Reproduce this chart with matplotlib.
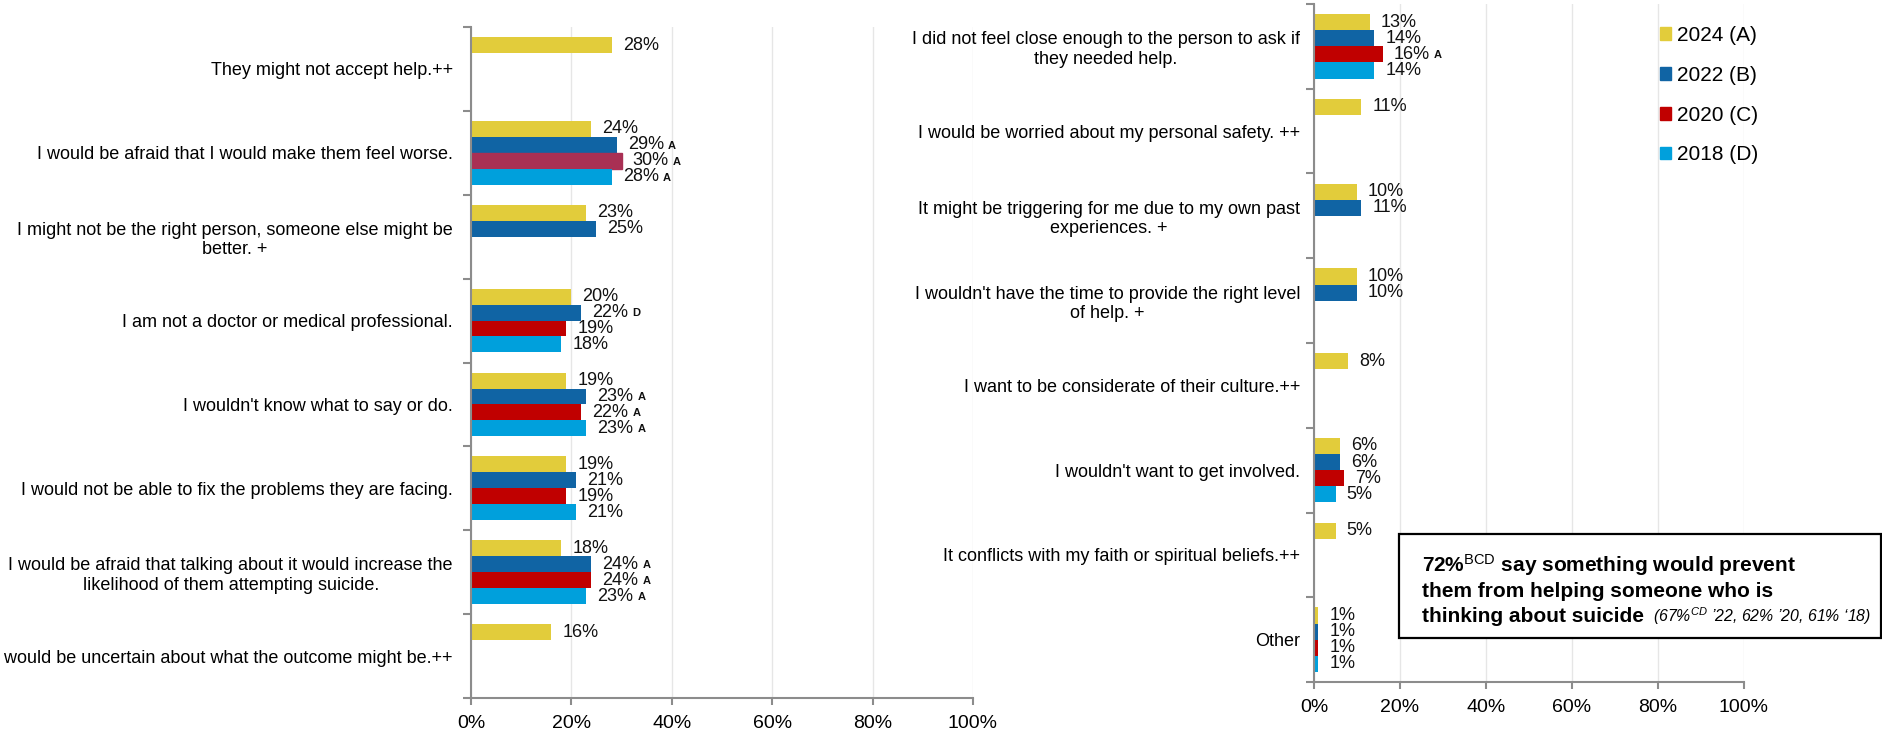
import numpy as np
import matplotlib
matplotlib.use("Agg")
import matplotlib.pyplot as plt
from matplotlib.patches import Patch, Rectangle

plt.rcParams["font.family"] = ["Liberation Sans", "DejaVu Sans"]
plt.rcParams["mathtext.fontset"] = "custom"
plt.rcParams["mathtext.rm"] = "Liberation Sans"
plt.rcParams["mathtext.it"] = "Liberation Sans:italic"
plt.rcParams["mathtext.bf"] = "Liberation Sans:bold"

years = ["2024 (A)", "2022 (B)", "2020 (C)", "2018 (D)"]
year_colors = ["#E2CC3B", "#1064A4", "#C00000", "#00A0DC"]

left_labels = [
    "They might not accept help.++",
    "I would be afraid that I would make them feel worse.",
    "I might not be the right person, someone else might be\nbetter. +",
    "I am not a doctor or medical professional.",
    "I wouldn't know what to say or do.",
    "I would not be able to fix the problems they are facing.",
    "I would be afraid that talking about it would increase the\nlikelihood of them attempting suicide.",
    "I would be uncertain about what the outcome might be.++",
]
left_2024 = [28, 24, 23, 20, 19, 19, 18, 16]
left_2022 = [None, 29, 25, 22, 23, 21, 24, None]
left_2020 = [None, 30, None, 19, 22, 19, 24, None]
left_2018 = [None, 28, None, 18, 23, 21, 23, None]
left_sig_2024 = [""] * 8
left_sig_2022 = ["", "A", "", "D", "A", "", "A", ""]
left_sig_2020 = ["", "A", "", "", "A", "", "A", ""]
left_sig_2018 = ["", "A", "", "", "A", "", "A", ""]

right_labels = [
    "I did not feel close enough to the person to ask if\nthey needed help.",
    "I would be worried about my personal safety. ++",
    "It might be triggering for me due to my own past\nexperiences. +",
    "I wouldn't have the time to provide the right level\nof help. +",
    "I want to be considerate of their culture.++",
    "I wouldn't want to get involved.",
    "It conflicts with my faith or spiritual beliefs.++",
    "Other",
]
right_2024 = [13, 11, 10, 10, 8, 6, 5, 1]
right_2022 = [14, None, 11, 10, None, 6, None, 1]
right_2020 = [16, None, None, None, None, 7, None, 1]
right_2018 = [14, None, None, None, None, 5, None, 1]
right_sig_2024 = [""] * 8
right_sig_2022 = [""] * 8
right_sig_2020 = ["A", "", "", "", "", "", "", ""]
right_sig_2018 = [""] * 8

AXIS_GREY = "#8C8C8C"
BAR_H = 0.19

W, H = 1883, 736
fig = plt.figure(figsize=(W / 100, H / 100), dpi=100)
ax_l = fig.add_axes([471 / W, 1 - 698 / H, 502 / W, 671 / H])
ax_r = fig.add_axes([1314 / W, 1 - 682 / H, 430 / W, 678 / H])


def draw_panel(ax, labels, series, sigs, label_pad, bar_colors=None):
    n = len(labels)
    pos = np.arange(n)
    offsets = (np.arange(len(series)) - 1.5) * BAR_H
    for k, (vals, sig) in enumerate(zip(series, sigs)):
        vals = np.array([np.nan if v is None else v for v in vals], dtype=float)
        bars = ax.barh(pos + offsets[k], vals, height=BAR_H, color=year_colors[k], zorder=2)
        for i, (bar, v) in enumerate(zip(bars, vals)):
            if np.isnan(v):
                continue
            if bar_colors and (i, k) in bar_colors:
                bar.set_color(bar_colors[(i, k)])
            y = pos[i] + offsets[k]
            t = ax.annotate(f"{v:.0f}%", xy=(v, y), xytext=(8, 0),
                            textcoords="offset points", va="center", ha="left",
                            fontsize=13, color="#111111")
            if sig[i]:
                ax.annotate(sig[i], xy=(1, 0.45), xycoords=t, xytext=(3, 0),
                            textcoords="offset points", va="center", ha="left",
                            fontsize=8, fontweight="bold", color="#111111")

    ax.set_xlim(0, 100)
    ax.set_ylim(n - 0.5, -0.5)
    ax.set_xticks(range(0, 101, 20), [f"{v}%" for v in range(0, 101, 20)])
    ax.set_yticks(pos, labels)
    ax.set_yticks(np.arange(n + 1) - 0.5, minor=True)
    ax.tick_params(axis="y", which="major", length=0, pad=label_pad, labelsize=13)
    ax.tick_params(axis="y", which="minor", length=6, width=1.5, color=AXIS_GREY)
    ax.tick_params(axis="x", length=5, width=1.5, color=AXIS_GREY, labelsize=14, pad=7)
    for lbl in ax.get_yticklabels():
        lbl.set_multialignment("center")
    ax.grid(axis="x", color="#E6E6E6", lw=1)
    ax.set_axisbelow(True)
    for side in ("top", "right"):
        ax.spines[side].set_visible(False)
    for side in ("left", "bottom"):
        ax.spines[side].set_color(AXIS_GREY)
        ax.spines[side].set_linewidth(1.5)


draw_panel(ax_l, left_labels,
           [left_2024, left_2022, left_2020, left_2018],
           [left_sig_2024, left_sig_2022, left_sig_2020, left_sig_2018],
           label_pad=13, bar_colors={(1, 2): "#A93054"})
draw_panel(ax_r, right_labels,
           [right_2024, right_2022, right_2020, right_2018],
           [right_sig_2024, right_sig_2022, right_sig_2020, right_sig_2018],
           label_pad=10)

handles = [Patch(color=c) for c in year_colors]
fig.legend(handles, years, loc="upper left", bbox_to_anchor=(1660 / W, 1 - 26 / H),
           frameon=False, fontsize=15, handlelength=0.55, handleheight=0.55,
           handletextpad=0.25, labelspacing=1.0, borderpad=0, borderaxespad=0)

# summary callout box
fig.add_artist(Rectangle((1399 / W, 1 - 638 / H), (1881 - 1399) / W, 104 / H,
                         transform=fig.transFigure, facecolor="white",
                         edgecolor="black", lw=1.6, zorder=5))
x0 = 1422 / W
fig.text(x0, 1 - 572 / H, r"72%$^{\mathrm{BCD}}$ say something would prevent",
         fontsize=15, fontweight="bold", va="baseline", zorder=6)
fig.text(x0, 1 - 597 / H, "them from helping someone who is",
         fontsize=15, fontweight="bold", va="baseline", zorder=6)
last = fig.text(x0, 1 - 622 / H, "thinking about suicide",
                fontsize=15, fontweight="bold", va="baseline", zorder=6)
bb = last.get_window_extent(renderer=fig.canvas.get_renderer())
fig.text((bb.x1 + 9) / W, 1 - 622 / H,
         r"(67%$^{\mathit{CD}}$ ’22, 62% ’20, 61% ‘18)",
         fontsize=11.4, fontstyle="italic", va="baseline", zorder=6)

fig.savefig("out.png", dpi=100)
